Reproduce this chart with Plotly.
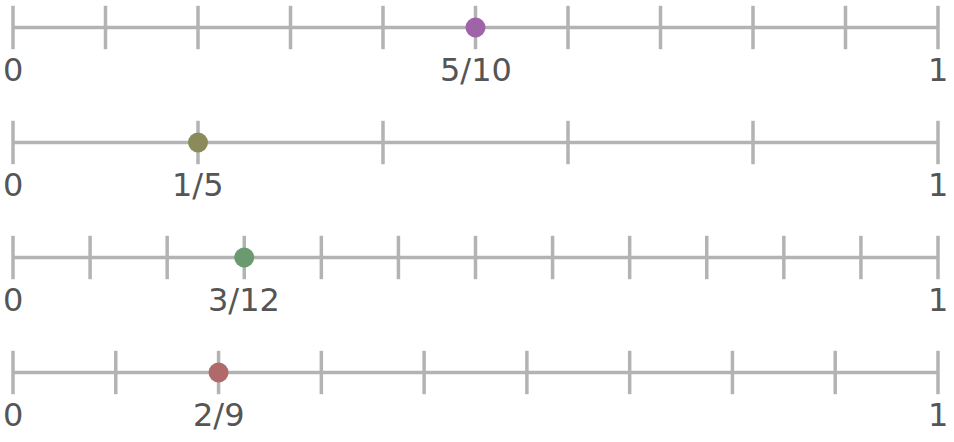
import plotly.graph_objects as go

# data
numerators = [5, 1, 3, 2]
denominators = [10, 5, 12, 9]
labels = ["5/10", "1/5", "3/12", "2/9"]
colors = ["#9f63a7", "#8a8a5b", "#6b9a71", "#b06a6a"]

LINE_COLOR = "#b3b3b3"
TEXT_COLOR = "#555555"
FONT = "DejaVu Sans, Verdana, sans-serif"

fig = go.Figure()
annotations = []
for row, (n, d, lab, col) in enumerate(zip(numerators, denominators, labels, colors)):
    fig.add_trace(go.Scatter(x=[0, 1], y=[row, row], mode="lines",
                             line=dict(color=LINE_COLOR, width=3.5),
                             hoverinfo="skip", showlegend=False))
    ticks = [i / d for i in range(d + 1)]
    fig.add_trace(go.Scatter(x=ticks, y=[row] * len(ticks), mode="markers",
                             marker=dict(symbol="line-ns", size=31,
                                         line=dict(color=LINE_COLOR, width=3.5)),
                             hoverinfo="skip", showlegend=False))
    fig.add_trace(go.Scatter(x=[n / d], y=[row], mode="markers",
                             marker=dict(color=col, size=20, line=dict(width=0)),
                             name=lab, showlegend=False))
    for xv, txt in [(0, "0"), (1, "1"), (n / d, lab)]:
        annotations.append(dict(x=xv, y=row, text=txt, showarrow=False,
                                xanchor="center", yanchor="middle", yshift=-42,
                                font=dict(family=FONT, size=32, color=TEXT_COLOR)))

W, H = 954, 442
left_px, unit_px = 13, 925
top_px, row_px = 27.5, 115
x0 = -left_px / unit_px
x1 = x0 + W / unit_px
y_top = -top_px / row_px
y_bot = (H - top_px) / row_px

fig.update_layout(
    width=W, height=H,
    margin=dict(l=0, r=0, t=0, b=0),
    paper_bgcolor="white", plot_bgcolor="white",
    xaxis=dict(range=[x0, x1], visible=False, fixedrange=True),
    yaxis=dict(range=[y_bot, y_top], visible=False, fixedrange=True),
    annotations=annotations,
)

fig.write_html("out.html", config={"displayModeBar": False},
               post_script="document.body.style.margin='0';document.body.style.overflow='hidden';")
